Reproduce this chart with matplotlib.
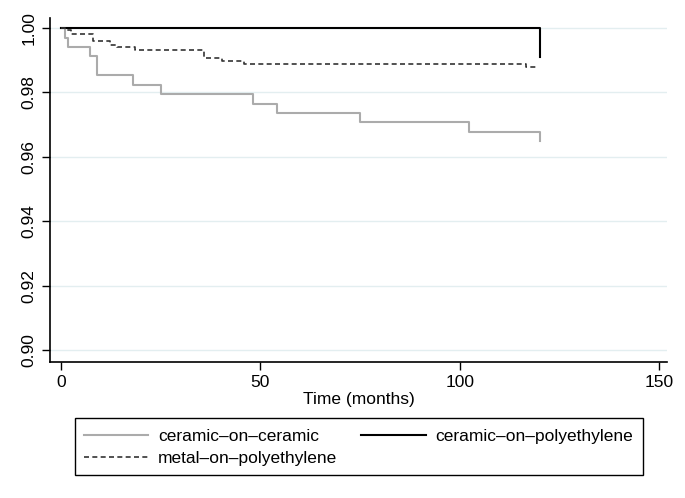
import numpy as np
import matplotlib.pyplot as plt
from matplotlib import rcParams
from matplotlib.patches import Rectangle

rcParams['font.family'] = ['Liberation Sans', 'DejaVu Sans']
rcParams['axes.unicode_minus'] = False

# Kaplan-Meier estimates (time in months, survival)
coc_time = [0, 1.1, 1.9, 7.2, 9.1, 18.1, 25.2, 48.1, 54.2, 75.1, 102.3, 120, 120]
coc_surv = [1.0, 0.9969, 0.9941, 0.9912, 0.9854, 0.9824, 0.9795, 0.9765, 0.9736, 0.9707, 0.9678, 0.9678, 0.9648]

cop_time = [0, 120, 120]
cop_surv = [1.0, 1.0, 0.9909]

mop_time = [0, 1.1, 2.5, 8.0, 12.4, 14.1, 18.5, 35.9, 40.5, 46.0, 116.5, 119.5]
mop_surv = [1.0, 0.9993, 0.9982, 0.9959, 0.9948, 0.9940, 0.9933, 0.9907, 0.9896, 0.9888, 0.9878, 0.9878]

y_ticks = [0.90, 0.92, 0.94, 0.96, 0.98, 1.00]
x_ticks = [0, 50, 100, 150]

W, H = 685, 498
fig = plt.figure(figsize=(W / 100, H / 100), dpi=100)
ax = fig.add_axes([0.073, 0.273, 0.901, 0.691])

for y in y_ticks:
    ax.axhline(y, color='#e3eef0', linewidth=1.0, zorder=0)

l1, = ax.step(coc_time, coc_surv, where='post', color='#ababab', linewidth=1.5)
l2, = ax.step(cop_time, cop_surv, where='post', color='black', linewidth=1.5)
l3, = ax.step(mop_time, mop_surv, where='post', color='#333333', linewidth=1.2,
              linestyle=(0, (3, 2)))

ax.set_xlim(-2.7, 152)
ax.set_ylim(0.8963, 1.0031)
ax.set_xticks(x_ticks)
ax.set_yticks(y_ticks)
ax.set_yticklabels([f'{v:.2f}' for v in y_ticks], rotation=90, va='center')
ax.tick_params(axis='both', labelsize=12.5, length=6, width=1.0, direction='out')
ax.set_xlabel('Time (months)', fontsize=12.5, labelpad=1)

for side in ['top', 'right']:
    ax.spines[side].set_visible(False)
for side in ['left', 'bottom']:
    ax.spines[side].set_linewidth(1.2)

# legend box drawn separately so its padding can match the original
fig.patches.append(Rectangle((75 / W, 1 - 475 / H), (643 - 75) / W, 57 / H,
                             transform=fig.transFigure, fill=False,
                             edgecolor='black', linewidth=1.0))

# column-first filling: coc + mop in column 1, cop in column 2
leg = fig.legend([l1, l3, l2],
                 ['ceramic\u2013on\u2013ceramic', 'metal\u2013on\u2013polyethylene',
                  'ceramic\u2013on\u2013polyethylene'],
                 ncol=2, loc='upper left', bbox_to_anchor=(75 / W, 1 - 420 / H),
                 bbox_transform=fig.transFigure, borderaxespad=0,
                 fontsize=12.5, frameon=False,
                 handlelength=3.7, handletextpad=0.57, borderpad=0.5,
                 labelspacing=0.42, columnspacing=1.4)

fig.savefig('out.png', dpi=100)
